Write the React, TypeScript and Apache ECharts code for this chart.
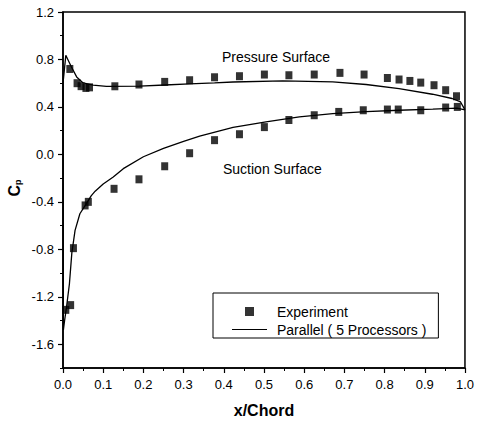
import React, { useEffect, useRef } from "react";
import * as echarts from "echarts";

// Experiment – pressure surface
const expPressureX = [0.017, 0.035, 0.045, 0.057, 0.066, 0.129, 0.189, 0.253, 0.315, 0.377, 0.439, 0.501, 0.562, 0.625, 0.689, 0.749, 0.807, 0.836, 0.863, 0.89, 0.923, 0.952, 0.979];
const expPressureY = [0.72, 0.6, 0.575, 0.56, 0.565, 0.574, 0.589, 0.611, 0.625, 0.65, 0.659, 0.673, 0.667, 0.673, 0.687, 0.673, 0.644, 0.631, 0.619, 0.605, 0.583, 0.541, 0.49];
// Experiment – suction surface
const expSuctionX = [0.007, 0.019, 0.026, 0.055, 0.063, 0.127, 0.189, 0.253, 0.315, 0.377, 0.439, 0.501, 0.562, 0.625, 0.686, 0.747, 0.807, 0.834, 0.89, 0.952, 0.981];
const expSuctionY = [-1.31, -1.27, -0.79, -0.43, -0.4, -0.29, -0.21, -0.1, 0.01, 0.12, 0.17, 0.23, 0.29, 0.33, 0.358, 0.372, 0.378, 0.378, 0.372, 0.395, 0.4];

// Parallel (5 processors) – closed loop: suction TE -> LE -> pressure -> TE
const parallelX = [1.0, 0.98, 0.92, 0.836, 0.754, 0.671, 0.588, 0.505, 0.423, 0.34, 0.3, 0.25, 0.2, 0.15, 0.125, 0.1, 0.08, 0.07, 0.059, 0.042, 0.03, 0.022, 0.016, 0.009, 0.004, 0.001, 0.0, 0.003, 0.007, 0.012, 0.021, 0.034, 0.05, 0.075, 0.108, 0.19, 0.253, 0.315, 0.377, 0.423, 0.547, 0.671, 0.754, 0.836, 0.919, 0.968, 0.989, 1.0];
const parallelY = [0.375, 0.39, 0.381, 0.372, 0.36, 0.344, 0.316, 0.274, 0.227, 0.153, 0.11, 0.05, -0.02, -0.12, -0.19, -0.25, -0.31, -0.35, -0.41, -0.5, -0.64, -0.83, -1.09, -1.28, -1.4, -1.48, 0.6, 0.7, 0.835, 0.8, 0.737, 0.653, 0.602, 0.583, 0.574, 0.575, 0.585, 0.595, 0.602, 0.61, 0.62, 0.611, 0.589, 0.555, 0.507, 0.471, 0.442, 0.375];

const yMajorTicks = [-1.6, -1.2, -0.8, -0.4, 0.0, 0.4, 0.8, 1.2];
const yMinorTicks = [-1.8, -1.4, -1.0, -0.6, -0.2, 0.2, 0.6, 1.0];

const FONT = "'Liberation Sans', Arial, sans-serif";

export default function App() {
  const ref = useRef<HTMLDivElement>(null);
  useEffect(() => {
    if (!ref.current) return;
    const chart = echarts.init(ref.current, null, { renderer: "svg" });
    const expData = [
      ...expPressureX.map((x, i) => [x, expPressureY[i]]),
      ...expSuctionX.map((x, i) => [x, expSuctionY[i]]),
    ];
    const lineData = parallelX.map((x, i) => [x, parallelY[i]]);
    chart.setOption({
      animation: false,
      backgroundColor: "#fff",
      textStyle: { fontFamily: FONT, color: "#000" },
      grid: {
        left: 63,
        right: 11,
        top: 12,
        bottom: 58,
        show: true,
        borderColor: "#000",
        borderWidth: 1.5,
      },
      xAxis: {
        type: "value",
        min: 0,
        max: 1,
        interval: 0.1,
        name: "x/Chord",
        nameLocation: "middle",
        nameGap: 34,
        nameTextStyle: { fontSize: 16, fontWeight: "bold", color: "#000", fontFamily: FONT },
        axisLine: { onZero: false, lineStyle: { color: "#000", width: 1.5 } },
        axisTick: { length: 5, lineStyle: { color: "#000", width: 1.2 } },
        minorTick: { show: true, splitNumber: 2, length: 3, lineStyle: { color: "#000", width: 1 } },
        axisLabel: { fontSize: 13, color: "#000", margin: 10, fontFamily: FONT, formatter: (v: number) => v.toFixed(1) },
        splitLine: { show: false },
        minorSplitLine: { show: false },
      },
      yAxis: [
        {
          type: "value",
          position: "left",
          min: -1.8,
          max: 1.2,
          interval: 0.4,
          axisLine: { onZero: false, lineStyle: { color: "#000", width: 1.5 } },
          axisTick: { customValues: yMinorTicks, length: 3, lineStyle: { color: "#000", width: 1 } },
          axisLabel: { customValues: yMajorTicks, fontSize: 13, color: "#000", margin: 9, fontFamily: FONT, formatter: (v: number) => v.toFixed(1) },
          splitLine: { show: false },
        },
        {
          type: "value",
          position: "left",
          min: -1.8,
          max: 1.2,
          interval: 0.4,
          axisLine: { show: false },
          axisTick: { customValues: yMajorTicks, length: 5, lineStyle: { color: "#000", width: 1.2 } },
          axisLabel: { show: false },
          splitLine: { show: false },
        },
      ],
      legend: {
        orient: "vertical",
        left: 213,
        top: 293,
        padding: [11, 12, 1, 19],
        itemGap: 3,
        itemWidth: 35,
        itemHeight: 9,
        borderColor: "#000",
        borderWidth: 1,
        backgroundColor: "#fff",
        textStyle: { fontSize: 14, color: "#000", fontFamily: FONT, lineHeight: 15, padding: [0, 0, 0, 5] },
        data: [
          { name: "Experiment", icon: "path://M0,0L10,0L10,10L0,10Z" },
          { name: "Parallel ( 5 Processors )", icon: "path://M0,0L35,0L35,1.2L0,1.2Z" },
        ],
      },
      graphic: [
        {
          type: "text",
          left: 222,
          top: 50,
          style: { text: "Pressure Surface", fontSize: 14, fill: "#000", fontFamily: FONT },
        },
        {
          type: "text",
          left: 223,
          top: 162,
          style: { text: "Suction Surface", fontSize: 14, fill: "#000", fontFamily: FONT },
        },
        {
          type: "text",
          x: 14,
          y: 188,
          rotation: Math.PI / 2,
          style: {
            text: "{c|C}{p|p}",
            align: "center",
            verticalAlign: "middle",
            rich: {
              c: { fontSize: 16, fontWeight: "bold", fill: "#000", fontFamily: FONT },
              p: { fontSize: 9, fontWeight: "bold", fill: "#000", fontFamily: FONT, padding: [8, 0, 0, 0] },
            },
          },
        },
      ],
      series: [
        {
          name: "Parallel ( 5 Processors )",
          type: "line",
          data: lineData,
          symbol: "none",
          lineStyle: { color: "#000", width: 1.3 },
          itemStyle: { color: "#000" },
          z: 2,
        },
        {
          name: "Experiment",
          type: "scatter",
          data: expData,
          symbol: "rect",
          symbolSize: [7, 8],
          itemStyle: { color: "#000" },
          z: 3,
        },
      ],
    });
    return () => chart.dispose();
  }, []);
  return (
    <div
      ref={ref}
      style={{ position: "fixed", left: 0, top: 0, width: 477, height: 426 }}
    />
  );
}
